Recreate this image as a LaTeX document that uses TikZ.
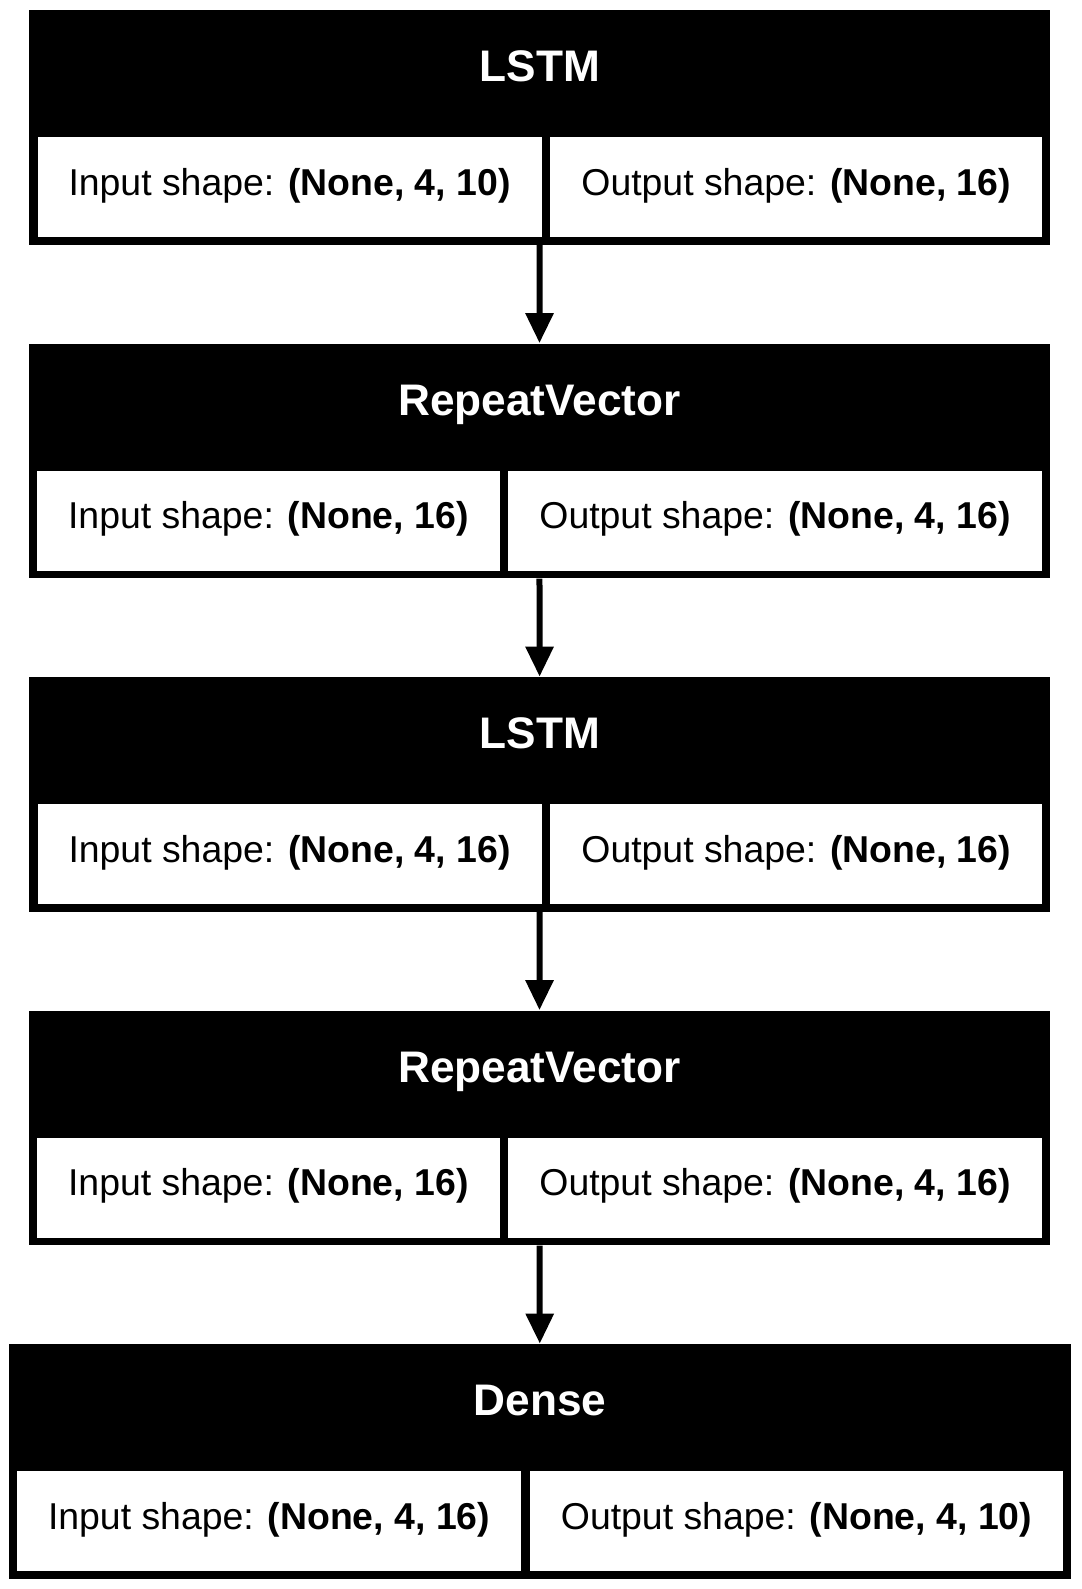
\documentclass[tikz,border=0pt]{standalone}
\usepackage{fontspec}
\setmainfont{Liberation Sans}
\usetikzlibrary{arrows.meta,positioning,fit,calc,backgrounds}

\begin{document}
\begin{tikzpicture}[
    cellbox/.style={fill=white, inner xsep=15.5pt, inner ysep=0pt,
        text height=29pt, text depth=21pt,
        font=\fontsize{18.7pt}{22pt}\selectfont},
    layerframe/.style={fill=black, inner sep=0pt},
    headlabel/.style={anchor=base, text=white,
        font=\fontsize{22.1pt}{26pt}\selectfont\bfseries},
    flowarr/.style={line width=3pt, -{Triangle[length=15pt, width=13.5pt]}}
]
\useasboundingbox (0,0) rectangle (540.5pt,-794.5pt);

% first LSTM
\coordinate (lstm1d) at (273pt,-68.5pt);
\node[cellbox, below left=0pt and 2pt of lstm1d] (lstm1in) {Input shape: \textbf{(None, 4, 10)}};
\node[cellbox, below right=0pt and 2pt of lstm1d] (lstm1out) {Output shape: \textbf{(None, 16)}};

% first RepeatVector
\coordinate (rep1d) at (252pt,-235.25pt);
\node[cellbox, below left=0pt and 2pt of rep1d] (rep1in) {Input shape: \textbf{(None, 16)}};
\node[cellbox, below right=0pt and 2pt of rep1d] (rep1out) {Output shape: \textbf{(None, 4, 16)}};

% second LSTM
\coordinate (lstm2d) at (273pt,-402pt);
\node[cellbox, below left=0pt and 2pt of lstm2d] (lstm2in) {Input shape: \textbf{(None, 4, 16)}};
\node[cellbox, below right=0pt and 2pt of lstm2d] (lstm2out) {Output shape: \textbf{(None, 16)}};

% second RepeatVector
\coordinate (rep2d) at (252pt,-568.75pt);
\node[cellbox, below left=0pt and 2pt of rep2d] (rep2in) {Input shape: \textbf{(None, 16)}};
\node[cellbox, below right=0pt and 2pt of rep2d] (rep2out) {Output shape: \textbf{(None, 4, 16)}};

% Dense
\coordinate (densed) at (262.75pt,-735.5pt);
\node[cellbox, below left=0pt and 2pt of densed] (densein) {Input shape: \textbf{(None, 4, 16)}};
\node[cellbox, below right=0pt and 2pt of densed] (denseout) {Output shape: \textbf{(None, 4, 10)}};

\begin{scope}[on background layer]
    \node[layerframe, fit={($(lstm1in.south west)+(-4pt,-3.5pt)$) ($(lstm1out.north east)+(4pt,63.5pt)$)}] (lstm1) {};
    \node[layerframe, fit={($(rep1in.south west)+(-4pt,-3.5pt)$) ($(rep1out.north east)+(4pt,63.5pt)$)}] (rep1) {};
    \node[layerframe, fit={($(lstm2in.south west)+(-4pt,-3.5pt)$) ($(lstm2out.north east)+(4pt,63.5pt)$)}] (lstm2) {};
    \node[layerframe, fit={($(rep2in.south west)+(-4pt,-3.5pt)$) ($(rep2out.north east)+(4pt,63.5pt)$)}] (rep2) {};
    \node[layerframe, fit={($(densein.south west)+(-4pt,-3.5pt)$) ($(denseout.north east)+(4pt,63.5pt)$)}] (dense) {};
\end{scope}

\node[headlabel] (lstm1t) at ($(lstm1.north)+(0,-36pt)$) {LSTM};
\node[headlabel] (rep1t) at ($(rep1.north)+(0,-36pt)$) {RepeatVector};
\node[headlabel] (lstm2t) at ($(lstm2.north)+(0,-36pt)$) {LSTM};
\node[headlabel] (rep2t) at ($(rep2.north)+(0,-36pt)$) {RepeatVector};
\node[headlabel] (denset) at ($(dense.north)+(0,-36pt)$) {Dense};

\draw[flowarr] (lstm1) -- (rep1);
\draw[flowarr] (rep1) -- (lstm2);
\draw[flowarr] (lstm2) -- (rep2);
\draw[flowarr] (rep2) -- (dense);
\end{tikzpicture}
\end{document}
